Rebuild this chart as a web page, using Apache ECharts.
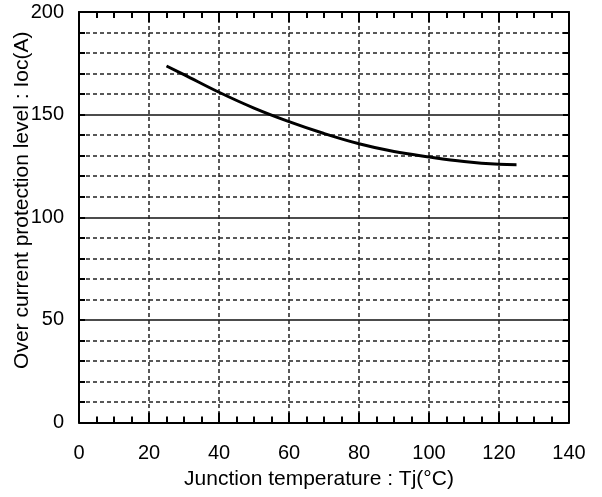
<!DOCTYPE html>
<html>
<head>
<meta charset="utf-8">
<script src="https://cdn.jsdelivr.net/npm/echarts@6/dist/echarts.min.js"></script>
<style>
  html, body { margin: 0; padding: 0; background: #fff; }
  #chart { width: 602px; height: 497px; }
</style>
</head>
<body>
<div id="chart"></div>
<script>
// junction temperature (°C) vs over current protection level (A)
var temps = [25, 30, 40, 50, 60, 70, 80, 90, 100, 110, 120, 125]
var iocValues = [173.7, 169.5, 160.9, 153.2, 146.6, 140.8, 135.8, 132, 129.4, 127.2, 125.8, 125.6]
var xTicks = [0, 20, 40, 60, 80, 100, 120, 140]
var yTicks = [0, 50, 100, 150, 200]

var font = 'Liberation Sans, Arial, sans-serif'
var dash = [4, 3]

var points = temps.map(function(t, i) { return [t, iocValues[i]] })

var chart = echarts.init(document.getElementById('chart'))

var xBase = {
  type: 'value',
  min: xTicks[0],
  max: xTicks[xTicks.length - 1],
  interval: 20,
  axisLine: { show: true, onZero: false, lineStyle: { color: '#000', width: 2 } },
  axisTick: { show: true, inside: true, length: 10, lineStyle: { color: '#000', width: 2 } },
  minorTick: { show: true, splitNumber: 4, length: 6, lineStyle: { color: '#000', width: 2 } }
}

var yBase = {
  type: 'value',
  min: yTicks[0],
  max: yTicks[yTicks.length - 1],
  interval: 50,
  axisLine: { show: true, onZero: false, lineStyle: { color: '#000', width: 2 } },
  axisTick: { show: true, inside: true, length: 6, lineStyle: { color: '#000', width: 2 } },
  minorTick: { show: true, splitNumber: 5, length: 6, lineStyle: { color: '#000', width: 2 } }
}

chart.setOption({
  animation: false,
  backgroundColor: '#fff',
  grid: { left: 79, right: 33, top: 12, bottom: 74.5, outerBoundsMode: 'none', containLabel: false },
  xAxis: [
    Object.assign({}, xBase, {
      position: 'bottom',
      name: 'Junction temperature : Tj(°C)',
      nameLocation: 'middle',
      nameGap: 46,
      nameMoveOverlap: false,
      nameTextStyle: { fontFamily: font, fontSize: 21, color: '#000', padding: [0, 10, 0, 0] },
      axisLabel: { fontFamily: font, fontSize: 20, color: '#000', margin: 21 },
      splitLine: { show: true, lineStyle: { color: '#222', width: 1.5, type: dash } },
      minorSplitLine: { show: false }
    }),
    Object.assign({}, xBase, {
      position: 'top',
      axisLabel: { show: false },
      splitLine: { show: false }
    })
  ],
  yAxis: [
    Object.assign({}, yBase, {
      position: 'left',
      name: 'Over current protection level : Ioc(A)',
      nameLocation: 'middle',
      nameGap: 46,
      nameRotate: 90,
      nameMoveOverlap: false,
      nameTextStyle: { fontFamily: font, fontSize: 21, color: '#000', padding: [0, 0, 0, 34] },
      axisLabel: { fontFamily: font, fontSize: 20, color: '#000', margin: 15 },
      splitLine: { show: true, lineStyle: { color: '#111', width: 1.5 } },
      minorSplitLine: { show: true, lineStyle: { color: '#222', width: 1.5, type: dash } }
    }),
    Object.assign({}, yBase, {
      position: 'right',
      axisLabel: { show: false },
      splitLine: { show: false }
    })
  ],
  series: [{
    type: 'line',
    xAxisIndex: 0,
    yAxisIndex: 0,
    data: points,
    smooth: 0.4,
    showSymbol: false,
    lineStyle: { color: '#000', width: 3 }
  }]
})
</script>
</body>
</html>
